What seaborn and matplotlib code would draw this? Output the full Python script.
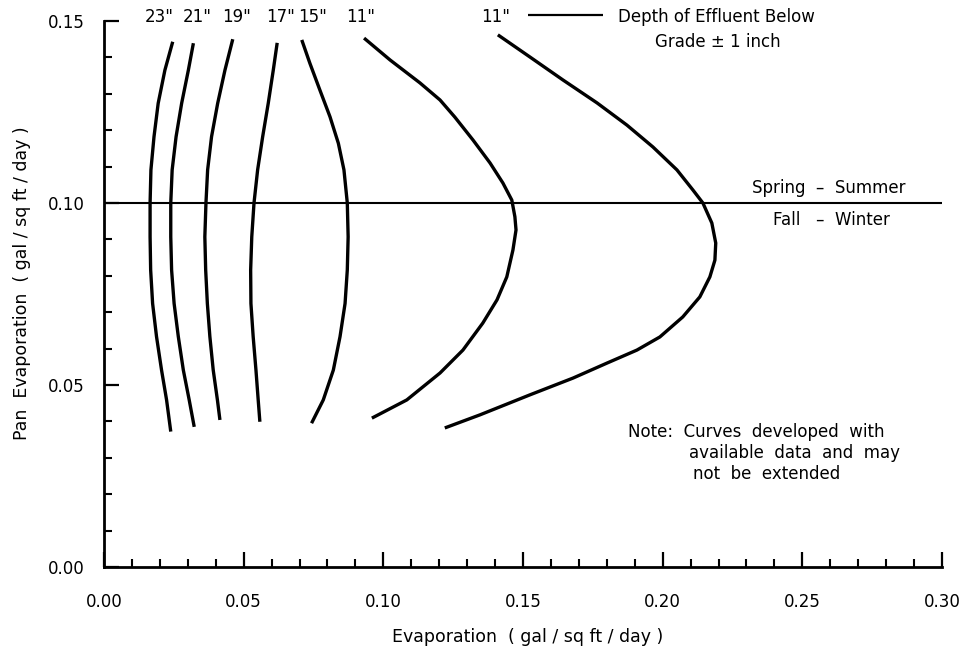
import matplotlib
matplotlib.use("Agg")
import matplotlib.pyplot as plt
import numpy as np
import pandas as pd
import seaborn as sns
from matplotlib.ticker import MultipleLocator, FormatStrFormatter

# Depth-of-effluent curves: evaporation (x) vs pan evaporation (y), top to bottom
curve_ids = ["23in", "21in", "19in", "17in", "15in", "11in_a", "11in_b"]
curve_labels = ['23"', '21"', '19"', '17"', '15"', '11"', '11"']

evap_23 = [0.0246, 0.0218, 0.0194, 0.0179, 0.0168, 0.0165, 0.0165, 0.0167, 0.0174, 0.0188, 0.0206, 0.0224, 0.0239]
pan_23 = [0.1443, 0.1365, 0.1274, 0.1182, 0.1091, 0.1000, 0.0907, 0.0816, 0.0724, 0.0633, 0.0541, 0.0459, 0.0372]

evap_21 = [0.0320, 0.0302, 0.0278, 0.0258, 0.0244, 0.0239, 0.0239, 0.0242, 0.0251, 0.0266, 0.0284, 0.0305, 0.0323]
pan_21 = [0.1439, 0.1365, 0.1274, 0.1182, 0.1091, 0.1000, 0.0907, 0.0816, 0.0724, 0.0633, 0.0541, 0.0459, 0.0385]

evap_19 = [0.0461, 0.0433, 0.0407, 0.0385, 0.0371, 0.0365, 0.0361, 0.0364, 0.0370, 0.0379, 0.0391, 0.0406, 0.0415]
pan_19 = [0.1450, 0.1365, 0.1274, 0.1182, 0.1091, 0.1000, 0.0907, 0.0816, 0.0724, 0.0633, 0.0541, 0.0459, 0.0404]

evap_17 = [0.0620, 0.0606, 0.0588, 0.0568, 0.0550, 0.0537, 0.0529, 0.0525, 0.0526, 0.0534, 0.0544, 0.0552, 0.0558]
pan_17 = [0.1440, 0.1365, 0.1274, 0.1182, 0.1091, 0.1000, 0.0907, 0.0816, 0.0724, 0.0633, 0.0541, 0.0459, 0.0399]

evap_15 = [0.0708, 0.0737, 0.0773, 0.0809, 0.0839, 0.0859, 0.0871, 0.0874, 0.0871, 0.0863, 0.0845, 0.0821, 0.0785, 0.0743]
pan_15 = [0.1448, 0.1384, 0.1310, 0.1237, 0.1164, 0.1091, 0.1000, 0.0907, 0.0816, 0.0724, 0.0633, 0.0541, 0.0459, 0.0395]

evap_11a = [0.0931, 0.1024, 0.1131, 0.1203, 0.1256, 0.1321, 0.1382, 0.1428, 0.1460, 0.1471,
            0.1475, 0.1464, 0.1442, 0.1407, 0.1356, 0.1285, 0.1203, 0.1084, 0.0959]
pan_11a = [0.1453, 0.1393, 0.1330, 0.1283, 0.1236, 0.1173, 0.1110, 0.1055, 0.1008, 0.0962,
           0.0926, 0.0871, 0.0797, 0.0734, 0.0670, 0.0596, 0.0533, 0.0459, 0.0409]

evap_11b = [0.1410, 0.1525, 0.1643, 0.1765, 0.1872, 0.1965, 0.2051, 0.2108, 0.2144, 0.2176, 0.2190,
            0.2187, 0.2169, 0.2133, 0.2072, 0.1990, 0.1908, 0.1800, 0.1679, 0.1525, 0.1346, 0.1220]
pan_11b = [0.1462, 0.1401, 0.1338, 0.1275, 0.1214, 0.1154, 0.1091, 0.1036, 0.1000, 0.0945, 0.0890,
           0.0843, 0.0797, 0.0742, 0.0687, 0.0632, 0.0596, 0.0560, 0.0519, 0.0473, 0.0418, 0.0382]

season_split = 0.10

series = [
    (evap_23, pan_23), (evap_21, pan_21), (evap_19, pan_19), (evap_17, pan_17),
    (evap_15, pan_15), (evap_11a, pan_11a), (evap_11b, pan_11b),
]
frames = []
for cid, (ex, py) in zip(curve_ids, series):
    frames.append(pd.DataFrame({"curve": cid, "evaporation": ex, "pan": py,
                                "order": np.arange(len(ex))}))
df = pd.concat(frames, ignore_index=True)

sns.set_theme(style="ticks")
plt.rcParams["font.family"] = ["DejaVu Sans"]
plt.rcParams["text.color"] = "black"
plt.rcParams["axes.labelcolor"] = "black"
plt.rcParams["lines.solid_joinstyle"] = "round"
plt.rcParams["lines.solid_capstyle"] = "butt"

fig = plt.figure(figsize=(9.67, 6.56), dpi=100)
ax = fig.add_axes([104 / 967, 1 - 567 / 656, 838 / 967, 546 / 656])

sns.lineplot(data=df, x="evaporation", y="pan", units="curve", estimator=None,
             sort=False, color="black", linewidth=2.4, legend=False, ax=ax)

# Season divider
ax.axhline(season_split, color="black", linewidth=1.5, zorder=1)

ax.set_xlim(0.0, 0.30)
ax.set_ylim(0.0, 0.15)
ax.xaxis.set_major_locator(MultipleLocator(0.05))
ax.xaxis.set_minor_locator(MultipleLocator(0.01))
ax.yaxis.set_major_locator(MultipleLocator(0.05))
ax.yaxis.set_minor_locator(MultipleLocator(0.01))
ax.xaxis.set_major_formatter(FormatStrFormatter("%.2f"))
ax.yaxis.set_major_formatter(FormatStrFormatter("%.2f"))
ax.tick_params(axis="both", which="major", direction="in", length=11, width=1.6,
               labelsize=12, color="black", labelcolor="black")
ax.tick_params(axis="both", which="minor", direction="in", length=6, width=1.5, color="black")
ax.tick_params(axis="x", which="major", pad=19)
ax.tick_params(axis="y", which="major", pad=14)

sns.despine(ax=ax)
for side in ("left", "bottom"):
    ax.spines[side].set_linewidth(2.0)
    ax.spines[side].set_color("black")
ax.set_facecolor("white")

ax.set_xlabel("Evaporation  ( gal / sq ft / day )", fontsize=12.5)
ax.set_ylabel("Pan  Evaporation  ( gal / sq ft / day )", fontsize=12.5)
ax.xaxis.set_label_coords(0.506, -0.112)
ax.yaxis.set_label_coords(-0.087, 0.52)

# Depth labels above the curve tops
label_x = [0.0197, 0.0333, 0.0476, 0.0633, 0.0748, 0.0920, 0.1403]
label_y = 0.1511
for lx, lab in zip(label_x, curve_labels):
    ax.text(lx, label_y, lab, ha="center", va="center", fontsize=12, clip_on=False)

# Key for the curves
ax.plot([0.1518, 0.1786], [0.1516, 0.1516], color="black", linewidth=1.6, clip_on=False)
ax.text(0.1840, 0.1511, "Depth of Effluent Below", ha="left", va="center", fontsize=12)
ax.text(0.2198, 0.1442, "Grade \u00b1 1 inch", ha="center", va="center", fontsize=12)

# Season annotations
ax.text(0.2595, 0.1041, "Spring  \u2013  Summer", ha="center", va="center", fontsize=12)
ax.text(0.2603, 0.0953, "Fall   \u2013  Winter", ha="center", va="center", fontsize=12)

# Note
ax.text(0.1875, 0.0371, "Note:  Curves  developed  with", ha="left", va="center", fontsize=12)
ax.text(0.2094, 0.0313, "available  data  and  may", ha="left", va="center", fontsize=12)
ax.text(0.2108, 0.0255, "not  be  extended", ha="left", va="center", fontsize=12)

fig.savefig("out.png", dpi=100, facecolor="white")
